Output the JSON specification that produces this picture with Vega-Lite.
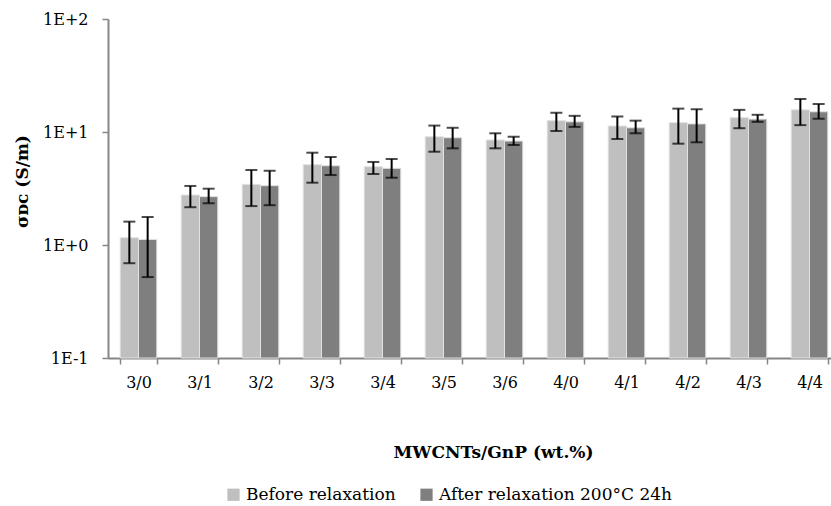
{
  "$schema": "https://vega.github.io/schema/vega-lite/v6.json",
  "width": 732,
  "height": 339,
  "autosize": {"type": "none"},
  "padding": {"left": 108, "top": 19, "right": -9, "bottom": 148},
  "background": "white",
  "config": {
    "view": {"stroke": null},
    "font": "DejaVu Serif",
    "axis": {"labelFont": "DejaVu Serif", "titleFont": "DejaVu Serif"},
    "legend": {"labelFont": "DejaVu Serif"}
  },
  "data": {
    "values": [
      {"ratio": "3/0", "state": "Before relaxation", "sigma": 1.16, "lo": 0.69, "hi": 1.61},
      {"ratio": "3/0", "state": "After relaxation 200°C 24h", "sigma": 1.12, "lo": 0.52, "hi": 1.77},
      {"ratio": "3/1", "state": "Before relaxation", "sigma": 2.77, "lo": 2.16, "hi": 3.33},
      {"ratio": "3/1", "state": "After relaxation 200°C 24h", "sigma": 2.68, "lo": 2.34, "hi": 3.15},
      {"ratio": "3/2", "state": "Before relaxation", "sigma": 3.44, "lo": 2.21, "hi": 4.61},
      {"ratio": "3/2", "state": "After relaxation 200°C 24h", "sigma": 3.35, "lo": 2.25, "hi": 4.54},
      {"ratio": "3/3", "state": "Before relaxation", "sigma": 5.14, "lo": 3.56, "hi": 6.56},
      {"ratio": "3/3", "state": "After relaxation 200°C 24h", "sigma": 5.03, "lo": 4.16, "hi": 6.01},
      {"ratio": "3/4", "state": "Before relaxation", "sigma": 4.93, "lo": 4.25, "hi": 5.43},
      {"ratio": "3/4", "state": "After relaxation 200°C 24h", "sigma": 4.77, "lo": 3.94, "hi": 5.77},
      {"ratio": "3/5", "state": "Before relaxation", "sigma": 9.08, "lo": 6.69, "hi": 11.4},
      {"ratio": "3/5", "state": "After relaxation 200°C 24h", "sigma": 8.9, "lo": 7.17, "hi": 10.9},
      {"ratio": "3/6", "state": "Before relaxation", "sigma": 8.5, "lo": 7.17, "hi": 9.74},
      {"ratio": "3/6", "state": "After relaxation 200°C 24h", "sigma": 8.32, "lo": 7.67, "hi": 9.08},
      {"ratio": "4/0", "state": "Before relaxation", "sigma": 12.6, "lo": 10.2, "hi": 14.8},
      {"ratio": "4/0", "state": "After relaxation 200°C 24h", "sigma": 12.3, "lo": 11.1, "hi": 13.9},
      {"ratio": "4/1", "state": "Before relaxation", "sigma": 11.3, "lo": 8.67, "hi": 13.7},
      {"ratio": "4/1", "state": "After relaxation 200°C 24h", "sigma": 10.9, "lo": 9.74, "hi": 12.6},
      {"ratio": "4/2", "state": "Before relaxation", "sigma": 12.1, "lo": 7.88, "hi": 16.1},
      {"ratio": "4/2", "state": "After relaxation 200°C 24h", "sigma": 11.8, "lo": 8.11, "hi": 15.9},
      {"ratio": "4/3", "state": "Before relaxation", "sigma": 13.4, "lo": 10.8, "hi": 15.7},
      {"ratio": "4/3", "state": "After relaxation 200°C 24h", "sigma": 13.0, "lo": 12.3, "hi": 14.2},
      {"ratio": "4/4", "state": "Before relaxation", "sigma": 15.7, "lo": 11.5, "hi": 19.6},
      {"ratio": "4/4", "state": "After relaxation 200°C 24h", "sigma": 15.1, "lo": 13.1, "hi": 17.7}
    ]
  },
  "encoding": {
    "x": {
      "field": "ratio",
      "type": "nominal",
      "sort": null,
      "scale": {"paddingInner": 0.4, "paddingOuter": 0.2},
      "axis": {
        "title": "MWCNTs/GnP (wt.%)",
        "titleFontSize": 17,
        "titleFontWeight": "bold",
        "titleColor": "black",
        "titleX": 385,
        "titleY": 99,
        "titleAnchor": null,
        "titleAlign": "center",
        "titleBaseline": "alphabetic",
        "labelAngle": 0,
        "labelFontSize": 16,
        "labelColor": "black",
        "labelPadding": 10,
        "tickBand": "extent",
        "tickSize": 6,
        "tickColor": "#868686",
        "domainColor": "#868686",
        "domainWidth": 2,
        "tickWidth": 1.5,
        "grid": false
      }
    },
    "xOffset": {
      "field": "state",
      "type": "nominal",
      "sort": ["Before relaxation", "After relaxation 200°C 24h"],
      "scale": {"paddingInner": 0, "paddingOuter": 0}
    }
  },
  "layer": [
    {
      "mark": {"type": "bar", "stroke": "#e2e2e2", "strokeWidth": 1},
      "encoding": {
        "y": {
          "field": "sigma",
          "type": "quantitative",
          "scale": {"type": "log", "domain": [0.1, 100], "nice": false},
          "axis": {
            "title": "σᴅᴄ (S/m)",
            "titleFontSize": 17,
            "titleFontWeight": "bold",
            "titleColor": "black",
            "titleX": -86,
            "titleY": 162,
            "titleAngle": -90,
            "titleAlign": "center",
            "titleBaseline": "middle",
            "values": [0.1, 1, 10, 100],
            "labelExpr": "datum.value >= 100 ? '1E+2' : datum.value >= 10 ? '1E+1' : datum.value >= 1 ? '1E+0' : '1E-1'",
            "labelFontSize": 16,
            "labelColor": "black",
            "labelPadding": 14,
            "tickSize": 6,
            "tickColor": "#868686",
            "domainColor": "#868686",
            "domainWidth": 2,
            "tickWidth": 1.5,
            "grid": false
          }
        },
        "y2": {"datum": 0.1},
        "color": {
          "field": "state",
          "type": "nominal",
          "sort": ["Before relaxation", "After relaxation 200°C 24h"],
          "scale": {"domain": ["Before relaxation", "After relaxation 200°C 24h"], "range": ["#bfbfbf", "#7f7f7f"]},
          "legend": {
            "title": null,
            "orient": "none",
            "direction": "horizontal",
            "legendX": 117,
            "legendY": 467,
            "symbolType": "square",
            "symbolSize": 150,
            "symbolStrokeWidth": 0,
            "labelFontSize": 17,
            "labelColor": "black",
            "labelLimit": 0,
            "labelOffset": 4,
            "columnPadding": 22
          }
        }
      }
    },
    {
      "mark": {"type": "rule", "color": "black", "strokeWidth": 2},
      "encoding": {
        "y": {"field": "lo", "type": "quantitative"},
        "y2": {"field": "hi"}
      }
    },
    {
      "mark": {"type": "tick", "color": "black", "thickness": 2, "size": 12, "orient": "horizontal"},
      "encoding": {"y": {"field": "lo", "type": "quantitative"}}
    },
    {
      "mark": {"type": "tick", "color": "black", "thickness": 2, "size": 12, "orient": "horizontal"},
      "encoding": {"y": {"field": "hi", "type": "quantitative"}}
    }
  ]
}
